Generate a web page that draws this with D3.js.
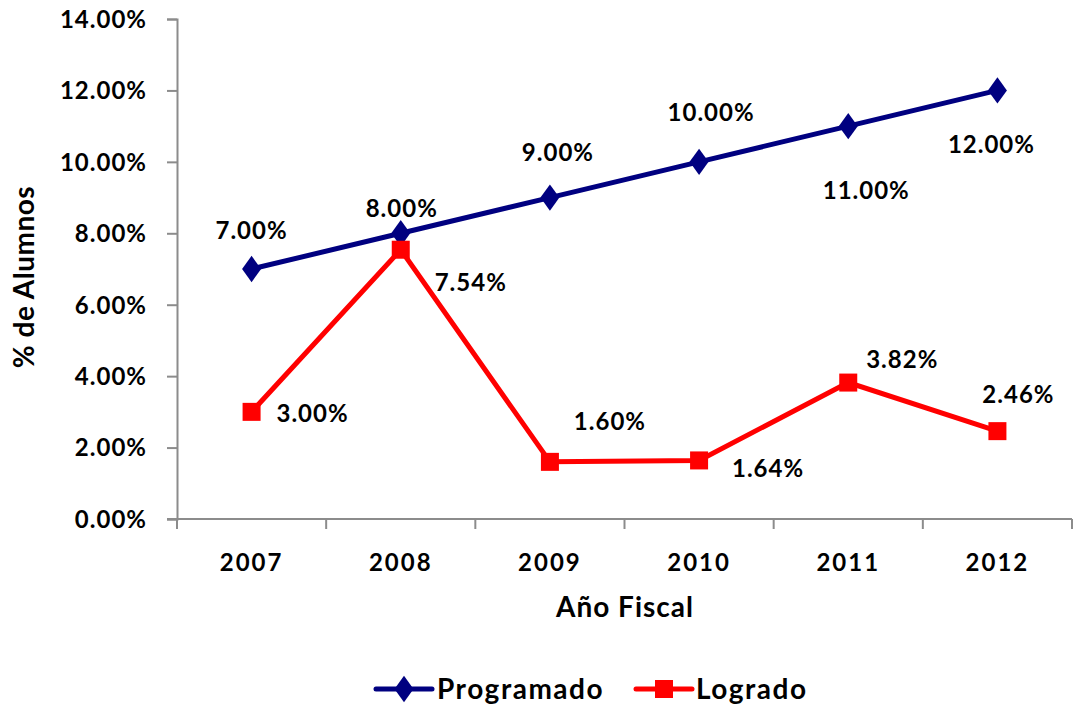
<!DOCTYPE html>
<html>
<head>
<meta charset="utf-8">
<script src="https://cdn.jsdelivr.net/npm/d3@7"></script>
<style>
  body { margin: 0; background: #fff; }
  text { font-family: Lato, "Open Sans", sans-serif; font-weight: bold; fill: #000; }
</style>
</head>
<body>
<script>
// Data
var years = ["2007", "2008", "2009", "2010", "2011", "2012"];
var programado = [7.00, 8.00, 9.00, 10.00, 11.00, 12.00];
var logrado = [3.00, 7.54, 1.60, 1.64, 3.82, 2.46];
var yTicks = [0, 2, 4, 6, 8, 10, 12, 14];

// Label nudges (pixels from the point), as placed in the original
var progLabelDx = [0, 1, 8, 12, 18, -6];
var progLabelDy = [-38, -25, -45, -49, 64, 54];
var logLabelDx = [61, 70, 60, 69, 54, 21];
var logLabelDy = [2, 33, -40, 8, -23, -37];

var width = 1077, height = 706;
var margin = { top: 19, right: 5, bottom: 187, left: 177 };

var svg = d3.select("body").append("svg")
  .attr("width", width)
  .attr("height", height);

var x = d3.scaleBand()
  .domain(years)
  .range([margin.left, width - margin.right]);

var y = d3.scaleLinear()
  .domain([0, 14])
  .range([height - margin.bottom, margin.top]);

var fmt = function (v) { return v.toFixed(2) + "%"; };

// y axis
var yAxis = svg.append("g")
  .attr("transform", "translate(" + margin.left + ",0)")
  .call(d3.axisLeft(y).tickValues(yTicks).tickFormat(fmt).tickSize(10).tickPadding(20));
yAxis.selectAll("line, path").attr("stroke", "#8c8c8c").attr("stroke-width", 2);
yAxis.selectAll("text").style("font-size", "24px").style("letter-spacing", "1px").attr("dy", "0.35em");

// x axis with ticks between categories
var xAxis = svg.append("g")
  .attr("transform", "translate(0," + y(0) + ")");
xAxis.append("line")
  .attr("x1", margin.left - 10).attr("x2", x.range()[1])
  .attr("stroke", "#8c8c8c").attr("stroke-width", 2);
var bounds = years.map(function (d) { return x(d); }).concat([x.range()[1]]);
xAxis.selectAll(".tick-b").data(bounds).enter().append("line")
  .attr("x1", function (d) { return d; }).attr("x2", function (d) { return d; })
  .attr("y1", 0).attr("y2", 10)
  .attr("stroke", "#8c8c8c").attr("stroke-width", 2);
xAxis.selectAll(".yr").data(years).enter().append("text")
  .attr("x", function (d) { return x(d) + x.bandwidth() / 2; })
  .attr("y", 52)
  .attr("text-anchor", "middle")
  .style("font-size", "24px")
  .style("letter-spacing", "2px")
  .text(function (d) { return d; });

// axis titles
svg.append("text")
  .attr("x", 625).attr("y", 617)
  .attr("text-anchor", "middle")
  .style("font-size", "28px")
  .style("letter-spacing", "1px")
  .text("Año Fiscal");
svg.append("text")
  .attr("transform", "translate(34,277) rotate(-90)")
  .attr("text-anchor", "middle")
  .style("font-size", "28px")
  .style("letter-spacing", "0.5px")
  .text("% de Alumnos");

var cx = function (d, i) { return x(years[i]) + x.bandwidth() / 2; };
var line = d3.line().x(cx).y(function (d) { return y(d); });

// Programado
svg.append("path").datum(programado)
  .attr("d", line).attr("fill", "none")
  .attr("stroke", "#000080").attr("stroke-width", 5);
svg.selectAll(".dia").data(programado).enter().append("path")
  .attr("d", d3.symbol().type(d3.symbolDiamond).size(200))
  .attr("transform", function (d, i) { return "translate(" + cx(d, i) + "," + y(d) + ") scale(1.25,1)"; })
  .attr("fill", "#000080");

// Logrado
svg.append("path").datum(logrado)
  .attr("d", line).attr("fill", "none")
  .attr("stroke", "#ff0000").attr("stroke-width", 5);
svg.selectAll(".sq").data(logrado).enter().append("rect")
  .attr("x", function (d, i) { return cx(d, i) - 9; })
  .attr("y", function (d) { return y(d) - 9; })
  .attr("width", 18).attr("height", 18)
  .attr("fill", "#ff0000");

// data labels
svg.selectAll(".pl").data(programado).enter().append("text")
  .attr("x", function (d, i) { return cx(d, i) + progLabelDx[i]; })
  .attr("y", function (d, i) { return y(d) + progLabelDy[i]; })
  .attr("dy", "0.35em")
  .attr("text-anchor", "middle")
  .style("font-size", "24px")
  .style("letter-spacing", "1px")
  .text(fmt);
svg.selectAll(".ll").data(logrado).enter().append("text")
  .attr("x", function (d, i) { return cx(d, i) + logLabelDx[i]; })
  .attr("y", function (d, i) { return y(d) + logLabelDy[i]; })
  .attr("dy", "0.35em")
  .attr("text-anchor", "middle")
  .style("font-size", "24px")
  .style("letter-spacing", "1px")
  .text(fmt);

// legend
var leg = svg.append("g").attr("transform", "translate(0,689)");
leg.append("line").attr("x1", 376).attr("x2", 432)
  .attr("stroke", "#000080").attr("stroke-width", 5).attr("stroke-linecap", "round");
leg.append("path")
  .attr("d", d3.symbol().type(d3.symbolDiamond).size(200))
  .attr("transform", "translate(404,0) scale(1.25,1)")
  .attr("fill", "#000080");
leg.append("text").attr("x", 437).attr("dy", "0.35em")
  .style("font-size", "28px").style("letter-spacing", "1.5px").text("Programado");
leg.append("line").attr("x1", 636).attr("x2", 692)
  .attr("stroke", "#ff0000").attr("stroke-width", 5).attr("stroke-linecap", "round");
leg.append("rect").attr("x", 655).attr("y", -9).attr("width", 18).attr("height", 18)
  .attr("fill", "#ff0000");
leg.append("text").attr("x", 696).attr("dy", "0.35em")
  .style("font-size", "28px").style("letter-spacing", "1.5px").text("Logrado");
</script>
</body>
</html>
